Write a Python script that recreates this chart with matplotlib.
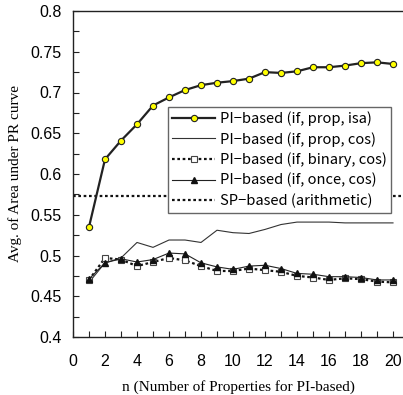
import matplotlib
matplotlib.use("Agg")
import matplotlib.pyplot as plt
from matplotlib.ticker import MultipleLocator

n = list(range(1, 21))
pi_prop_isa = [0.535, 0.618, 0.641, 0.661, 0.684, 0.694, 0.703, 0.709, 0.712, 0.714,
               0.717, 0.725, 0.724, 0.726, 0.731, 0.731, 0.733, 0.736, 0.737, 0.735]
pi_prop_cos = [0.467, 0.491, 0.497, 0.516, 0.510, 0.519, 0.519, 0.516, 0.531, 0.528,
               0.527, 0.532, 0.538, 0.541, 0.541, 0.541, 0.540, 0.540, 0.540, 0.540]
pi_binary_cos = [0.470, 0.497, 0.495, 0.487, 0.492, 0.497, 0.494, 0.487, 0.481, 0.481,
                 0.484, 0.482, 0.480, 0.475, 0.473, 0.470, 0.472, 0.471, 0.468, 0.467]
pi_once_cos = [0.471, 0.491, 0.496, 0.492, 0.495, 0.503, 0.502, 0.491, 0.486, 0.483,
               0.487, 0.488, 0.484, 0.478, 0.477, 0.474, 0.474, 0.473, 0.470, 0.470]
sp_arithmetic = 0.573

labels = ["PI\u2212based (if, prop, isa)", "PI\u2212based (if, prop, cos)",
          "PI\u2212based (if, binary, cos)", "PI\u2212based (if, once, cos)",
          "SP\u2212based (arithmetic)"]

fig = plt.figure(figsize=(4.03, 3.95), dpi=100)
ax = fig.add_axes([73/403, 1-337/395, 1-73/403, (337-11)/395])

ax.plot(n, pi_prop_isa, color="#222222", lw=1.6, marker="o", ms=4.5,
        mfc="#ffff00", mec="#222222", mew=0.8, label=labels[0], zorder=5)
ax.plot(n, pi_prop_cos, color="#333333", lw=0.8, label=labels[1])
ax.plot(n, pi_binary_cos, color="#111111", lw=1.6, ls=(0, (1.2, 1.2)), marker="s", ms=5,
        mfc="white", mec="#444444", mew=0.8, label=labels[2])
ax.plot(n, pi_once_cos, color="#222222", lw=0.8, marker="^", ms=4,
        mfc="#111111", mec="#111111", label=labels[3])
ax.axhline(sp_arithmetic, color="#111111", lw=1.6, ls=(0, (1.2, 1.2)), label=labels[4])

ax.set_xlim(0, 20.625)
ax.set_ylim(0.4, 0.8)
ax.xaxis.set_major_locator(MultipleLocator(2))
ax.xaxis.set_minor_locator(MultipleLocator(1))
ax.yaxis.set_major_locator(MultipleLocator(0.05))
ax.yaxis.set_minor_locator(MultipleLocator(0.025))
ax.yaxis.set_major_formatter(matplotlib.ticker.FuncFormatter(lambda v, p: "%g" % round(v, 3)))
ax.tick_params(which="both", direction="in", length=4, width=0.8, color="#222222")
ax.tick_params(axis="y", labelsize=11.5, pad=8)
ax.tick_params(axis="x", labelsize=11.5, pad=12)
for lab in ax.get_xticklabels() + ax.get_yticklabels():
    lab.set_family("Liberation Sans")
ax.spines["right"].set_visible(False)
for s in ["left", "bottom", "top"]:
    ax.spines[s].set_color("#222222")
    ax.spines[s].set_linewidth(1.0)

ax.set_ylabel("Avg. of Area under PR curve", family="Liberation Serif", fontsize=11, labelpad=6)
ax.set_xlabel("n (Number of Properties for PI-based)", family="Liberation Serif", fontsize=11, labelpad=8)

leg = ax.legend(loc="upper left", bbox_to_anchor=(0.288, 0.706), borderaxespad=0,
                fancybox=False, framealpha=1, edgecolor="#666666", handlelength=2.9,
                numpoints=1, prop={"family": ["Noto Sans CJK JP", "DejaVu Sans"], "size": 10.6},
                labelspacing=0.4, borderpad=0.3, handletextpad=0.3)
leg.get_frame().set_linewidth(1.0)
leg.set_zorder(10)

fig.savefig("out.png", dpi=100)
